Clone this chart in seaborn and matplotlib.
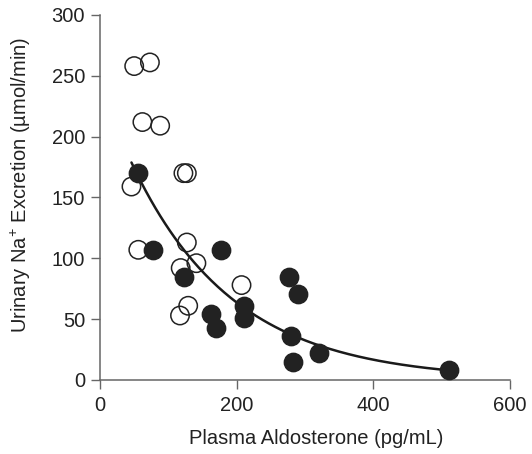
import numpy as np
import pandas as pd
import matplotlib
matplotlib.use("Agg")
import matplotlib.pyplot as plt
import seaborn as sns

# open circles
open_x = [50, 73, 62, 88, 46, 122, 127, 56, 127, 118, 141, 207, 129, 117]
open_y = [258, 261, 212, 209, 159, 170, 170, 107, 113, 92, 96, 78, 61, 53]

# filled circles
filled_x = [55, 77, 123, 177, 162, 169, 210, 210, 276, 290, 280, 283, 320, 511]
filled_y = [170, 107, 85, 107, 54, 43, 61, 51, 85, 71, 36, 15, 22, 8]

x_ticks = [0, 200, 400, 600]
y_ticks = [0, 50, 100, 150, 200, 250, 300]

sns.set_style("ticks")
plt.rcParams["font.family"] = ["Liberation Sans", "DejaVu Sans"]
plt.rcParams["mathtext.fontset"] = "custom"
plt.rcParams["mathtext.rm"] = "Liberation Sans"
plt.rcParams["mathtext.it"] = "Liberation Sans:italic"

df_open = pd.DataFrame({"x": open_x, "y": open_y})
df_filled = pd.DataFrame({"x": filled_x, "y": filled_y})
df_all = pd.concat([df_open, df_filled], ignore_index=True)

# exponential trendline fitted on all points (like an Excel trendline)
b, ln_a = np.polyfit(df_all["x"], np.log(df_all["y"]), 1)
xs = np.linspace(df_all["x"].min(), df_all["x"].max(), 200)
df_fit = pd.DataFrame({"x": xs, "y": np.exp(ln_a) * np.exp(b * xs)})

fig = plt.figure(figsize=(5.32, 4.54), dpi=100)
ax = fig.add_axes([0.188, 0.163, 0.771, 0.804])

sns.scatterplot(data=df_open, x="x", y="y", ax=ax, s=175, marker="o",
                facecolor="none", edgecolor="#222222", linewidth=1.1, zorder=2)
sns.lineplot(data=df_fit, x="x", y="y", ax=ax, color="#1a1a1a", linewidth=1.8,
             zorder=3)
sns.scatterplot(data=df_filled, x="x", y="y", ax=ax, s=175, marker="o",
                color="#222222", edgecolor="#222222", linewidth=1.0, zorder=4)

ax.set_xlim(0, 600)
ax.set_ylim(0, 300)
ax.set_xticks(x_ticks)
ax.set_yticks(y_ticks)
ax.set_xlabel("Plasma Aldosterone (pg/mL)", fontsize=14.5, color="#222222")
ax.set_ylabel("Urinary Na$^{+}$ Excretion (µmol/min)", fontsize=14.5, color="#222222")
ax.xaxis.set_label_coords(0.527, -0.135)
ax.yaxis.set_label_coords(-0.163, 0.535)
ax.tick_params(axis="both", labelsize=14.5, colors="#222222", length=6.2, width=1,
               color="#666666")
ax.tick_params(axis="x", pad=5.5)
ax.tick_params(axis="y", pad=4.5)
for side in ["left", "bottom"]:
    ax.spines[side].set_color("#666666")
    ax.spines[side].set_linewidth(1.1)
sns.despine(ax=ax)

fig.savefig("out.png", dpi=100)
